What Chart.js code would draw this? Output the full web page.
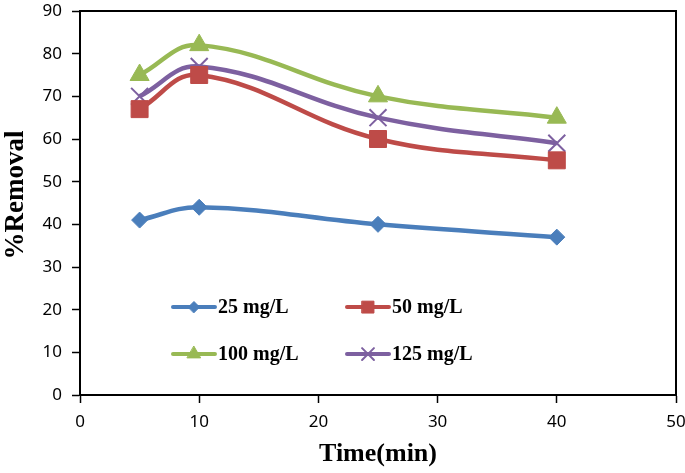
<!DOCTYPE html>
<html lang="en">
<head>
    <meta charset="UTF-8">
    <title>% Removal vs Time</title>
    <script src="https://cdn.jsdelivr.net/npm/chart.js"></script>
    <style>
        html, body { margin: 0; padding: 0; background: #fff; overflow: hidden; }
        #wrap { width: 685px; height: 473px; overflow: hidden; position: relative; }
        /* the big markers force ~14px of padding on top/right, so the canvas is a bit
           larger than the window and nudged up to put the plot box where the original has it */
        #removalChart { position: absolute; left: 0; top: -3px; }
    </style>
</head>
<body>
    <div id="wrap"><canvas id="removalChart" width="690" height="476"></canvas></div>

    <script>
    // data
    const times = [5, 10, 25, 40];
    const seriesLabels = ['25 mg/L', '50 mg/L', '100 mg/L', '125 mg/L'];
    const removal25 = [41, 44, 40, 37];
    const removal50 = [67, 75, 60, 55];
    const removal100 = [75, 82, 70, 65];
    const removal125 = [70, 77, 65, 59];

    const colors = ['#4A7EBB', '#BE4B48', '#98B954', '#7D60A0'];
    const markers = ['rectRot', 'rect', 'triangle', 'crossRot'];
    const radii = [8, 12, 11, 12];

    const toPoints = (vals) => times.map((t, i) => ({x: t, y: vals[i]}));

    const datasets = [removal25, removal50, removal100, removal125].map((vals, i) => ({
        label: seriesLabels[i],
        data: toPoints(vals),
        borderColor: colors[i],
        backgroundColor: colors[i],
        borderWidth: 4.5,
        tension: 0.4,
        pointStyle: markers[i],
        pointRadius: radii[i],
        pointHoverRadius: radii[i],
        pointBorderWidth: markers[i] === 'crossRot' ? 2 : 1,
        pointBorderColor: colors[i],
        pointBackgroundColor: colors[i]
    }));

    // legend inside the plot (data units of where each key line starts)
    const legendSpots = [
        {x: 7.8, y: 20.6}, {x: 22.4, y: 20.6},
        {x: 7.8, y: 9.6}, {x: 22.4, y: 9.6}
    ];
    const insideLegend = {
        id: 'insideLegend',
        afterDatasetsDraw(chart) {
            const ctx = chart.ctx;
            const xs = chart.scales.x, ys = chart.scales.y;
            ctx.save();
            chart.data.datasets.forEach((ds, i) => {
                const sx = xs.getPixelForValue(legendSpots[i].x);
                const sy = ys.getPixelForValue(legendSpots[i].y);
                ctx.strokeStyle = ds.borderColor;
                ctx.lineWidth = 4;
                ctx.lineCap = 'round';
                ctx.beginPath();
                ctx.moveTo(sx, sy);
                ctx.lineTo(sx + 42, sy);
                ctx.stroke();
                ctx.fillStyle = ds.backgroundColor;
                ctx.lineWidth = ds.pointBorderWidth;
                Chart.helpers.drawPoint(ctx, {
                    pointStyle: ds.pointStyle,
                    radius: ds.pointRadius * 0.7,
                    borderWidth: ds.pointBorderWidth,
                    rotation: 0
                }, sx + 21, sy);
                ctx.fillStyle = '#000';
                ctx.font = 'bold 20px "Liberation Serif", "Times New Roman", serif';
                ctx.textBaseline = 'middle';
                ctx.textAlign = 'left';
                ctx.fillText(ds.label, sx + 45, sy + 1);
            });
            ctx.restore();
        }
    };

    // top and right sides of the plot box, plus the y title placed like the original
    const plotBox = {
        id: 'plotBox',
        beforeDatasetsDraw(chart) {
            const {left, right, top, bottom} = chart.chartArea;
            const ctx = chart.ctx;
            ctx.save();
            ctx.strokeStyle = '#000';
            ctx.lineWidth = 2;
            ctx.beginPath();
            ctx.moveTo(left, top);
            ctx.lineTo(right, top);
            ctx.lineTo(right, bottom);
            ctx.stroke();

            ctx.translate(16, (top + bottom) / 2 - 8);
            ctx.rotate(-Math.PI / 2);
            ctx.fillStyle = '#000';
            ctx.font = 'bold 27px "Liberation Serif", "Times New Roman", serif';
            ctx.textAlign = 'center';
            ctx.textBaseline = 'middle';
            ctx.fillText('%Removal', 0, 0);
            ctx.restore();
        }
    };

    const tickFont = {family: '"Noto Sans", sans-serif', size: 17};
    const titleFont = {family: '"Liberation Serif", "Times New Roman", serif', size: 26, weight: 'bold', lineHeight: 1.2};

    new Chart(document.getElementById('removalChart').getContext('2d'), {
        type: 'line',
        data: {datasets: datasets},
        plugins: [plotBox, insideLegend],
        options: {
            responsive: false,
            animation: false,
            layout: {padding: 0},
            plugins: {
                legend: {display: false},
                tooltip: {enabled: false}
            },
            scales: {
                x: {
                    type: 'linear',
                    min: 0,
                    max: 50,
                    ticks: {stepSize: 10, color: '#000', font: tickFont, padding: 9},
                    grid: {drawOnChartArea: false, drawTicks: true, tickLength: 8, tickColor: '#000', tickWidth: 1.5},
                    border: {color: '#000', width: 2},
                    title: {display: true, text: 'Time(min)', color: '#000', font: titleFont, padding: {top: 0, bottom: 3}},
                    afterFit(scale) {
                        scale.height = 78;
                        scale.paddingLeft = 0;
                        scale.paddingRight = 0;
                    }
                },
                y: {
                    min: 0,
                    max: 90,
                    ticks: {stepSize: 10, color: '#000', font: tickFont, padding: 10},
                    grid: {drawOnChartArea: false, drawTicks: true, tickLength: 8, tickColor: '#000', tickWidth: 1.5},
                    border: {color: '#000', width: 2},
                    afterFit(scale) {
                        scale.width = 80;
                        scale.paddingTop = 0;
                        scale.paddingBottom = 0;
                    }
                }
            }
        }
    });
    </script>
</body>
</html>
